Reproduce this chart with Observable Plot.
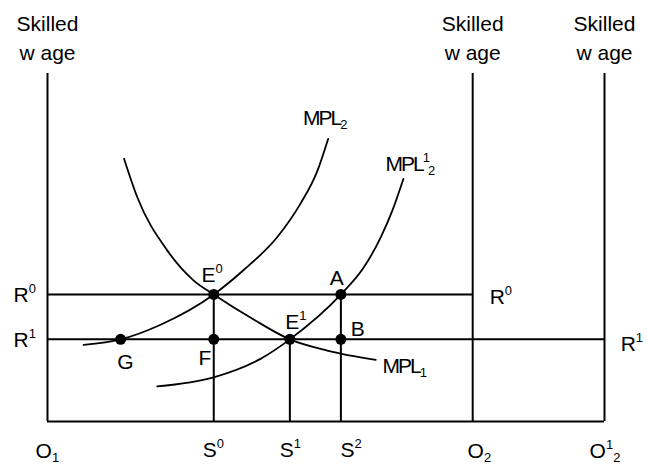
<!DOCTYPE html>
<html>
<head>
<meta charset="utf-8">
<script src="https://cdn.jsdelivr.net/npm/d3@7"></script>
<script src="https://cdn.jsdelivr.net/npm/@observablehq/plot@0.6"></script>
<style>
  html, body { margin: 0; padding: 0; background: #fff; }
  #chart { width: 646px; height: 467px; }
</style>
</head>
<body>
<div id="chart"></div>
<script>
// ---- Key quantities (x: skilled labour, y: skilled wage) ----
const xO1 = 0, xO2 = 100, xO2new = 131;          // origins
const xS0 = 39.1, xS1 = 57, xS2 = 69, xG = 17.2; // labour allocations
const wR0 = 36.5, wR1 = 23.6, wTop = 100;        // wages

// ---- Curves ----
const mpl1X = [18, 21.1, 28.2, 34.4, 39.1, 48.5, 57, 65.8, 77.2];
const mpl1Y = [75.5, 64.5, 49.1, 40.5, 36.5, 29.3, 23.6, 20.4, 17.7];

const mpl2X = [8.5, 17.2, 26.6, 39.1, 46.2, 54.05, 59.5, 63.5, 66.0];
const mpl2Y = [22.0, 23.6, 27.8, 36.5, 43.6, 53.0, 62.6, 72.1, 81.2];

const mpl2nX = [25.8, 39.1, 50.1, 57, 69, 74.4, 78.4, 81.1, 83.7];
const mpl2nY = [10.1, 12.7, 18.0, 23.6, 36.5, 44.3, 53.0, 60.6, 69.7];

// ---- Marked points ----
const pointNames = ["E0", "F", "G", "E1", "A", "B"];
const pointX = [xS0, xS0, xG, xS1, xS2, xS2];
const pointY = [wR0, wR1, wR1, wR1, wR0, wR1];

// ---- Labels (^x = superscript, _x = subscript), anchored at text start/baseline ----
const labelText = ["E^0", "A", "E^1", "B", "F", "G",
                   "MPL_2", "MPL^1_2", "MPL_1",
                   "R^0", "R^1", "R^0", "R^1",
                   "O_1", "S^0", "S^1", "S^2", "O_2", "O^1_2"];
const labelX = [36.2, 66.4, 55.9, 71.3, 35.5, 16.4,
                60.1, 79.5, 78.8,
                -8.0, -8.0, 104.0, 134.8,
                -2.8, 36.5, 54.6, 68.9, 98.8, 127.5];
const labelY = [40.0, 39.1, 26.6, 24.7, 16.1, 15.1,
                85.3, 72.1, 13.8,
                34.3, 21.35, 33.9, 20.4,
                -10.6, -10.3, -10.3, -10.3, -10.6, -10.6];

const axisTitle = "Skilled\nw age";
const axisTitleX = [xO1, xO2, xO2new];
const axisTitleY = 104.0;

// ---- Build tables ----
const curve = (X, Y) => X.map((x, i) => ({x, y: Y[i]}));
const points = pointNames.map((n, i) => ({n, x: pointX[i], y: pointY[i]}));
const labels = labelText.map((t, i) => ({t, x: labelX[i], y: labelY[i]}));
const titles = axisTitleX.map(x => ({x, y: axisTitleY, t: axisTitle}));

const hLines = [
  {x1: xO1, x2: xO2new, y: 0},
  {x1: xO1, x2: xO2, y: wR0},
  {x1: xO1, x2: xO2new, y: wR1}
];
const vLines = [
  {x: xO1, y1: 0, y2: wTop},
  {x: xO2, y1: 0, y2: wTop},
  {x: xO2new, y1: 0, y2: wTop},
  {x: xS0, y1: 0, y2: wR0},
  {x: xS1, y1: 0, y2: wR1},
  {x: xS2, y1: 0, y2: wR0}
];

const isMPL = d => d.t.startsWith("MPL");

const chart = Plot.plot({
  width: 646,
  height: 467,
  marginLeft: 47,
  marginRight: 42,
  marginTop: 73,
  marginBottom: 46,
  x: {domain: [0, xO2new], axis: null},
  y: {domain: [0, wTop], axis: null},
  style: {fontFamily: "'Liberation Sans', Arial, sans-serif", background: "#fff", color: "#000"},
  marks: [
    Plot.ruleY(hLines, {x1: "x1", x2: "x2", y: "y", stroke: "#000", strokeWidth: 2}),
    Plot.ruleX(vLines, {x: "x", y1: "y1", y2: "y2", stroke: "#000", strokeWidth: 2}),
    Plot.line(curve(mpl1X, mpl1Y), {x: "x", y: "y", curve: "monotone-x", stroke: "#000", strokeWidth: 1.8}),
    Plot.line(curve(mpl2X, mpl2Y), {x: "x", y: "y", curve: "monotone-x", stroke: "#000", strokeWidth: 1.8}),
    Plot.line(curve(mpl2nX, mpl2nY), {x: "x", y: "y", curve: "monotone-x", stroke: "#000", strokeWidth: 1.8}),
    Plot.dot(points, {x: "x", y: "y", r: 5.5, fill: "#000", stroke: "none"}),
    Plot.text(labels.filter(d => !isMPL(d)), {x: "x", y: "y", text: "t", textAnchor: "start", lineAnchor: "bottom", fontSize: 21, fill: "#000"}),
    Plot.text(labels.filter(isMPL), {x: "x", y: "y", text: "t", textAnchor: "start", lineAnchor: "bottom", fontSize: 21, fill: "#000", className: "mpl"}),
    Plot.text(titles, {x: "x", y: "y", text: "t", textAnchor: "middle", lineAnchor: "bottom", lineHeight: 1.38, fontSize: 21, fill: "#000"})
  ]
});

// Turn ^x / _x markup into superscript / subscript tspans
d3.select(chart).selectAll("text").each(function () {
  if (this.querySelector("tspan")) return;
  const s = this.textContent;
  if (!/[\^_]/.test(s)) return;
  const parts = s.match(/[\^_].|[^\^_]+/g);
  this.textContent = "";
  let off = 0;
  for (const p of parts) {
    const ts = document.createElementNS("http://www.w3.org/2000/svg", "tspan");
    if (p[0] === "^" || p[0] === "_") {
      const target = p[0] === "^" ? -9 : 4;
      ts.setAttribute("dy", target - off);
      off = target;
      ts.setAttribute("font-size", 13);
      ts.textContent = p.slice(1);
    } else {
      ts.setAttribute("dy", -off);
      off = 0;
      ts.textContent = p;
    }
    this.appendChild(ts);
  }
});
d3.select(chart).selectAll("g.mpl text").attr("letter-spacing", "-2px");

document.getElementById("chart").appendChild(chart);
</script>
</body>
</html>
